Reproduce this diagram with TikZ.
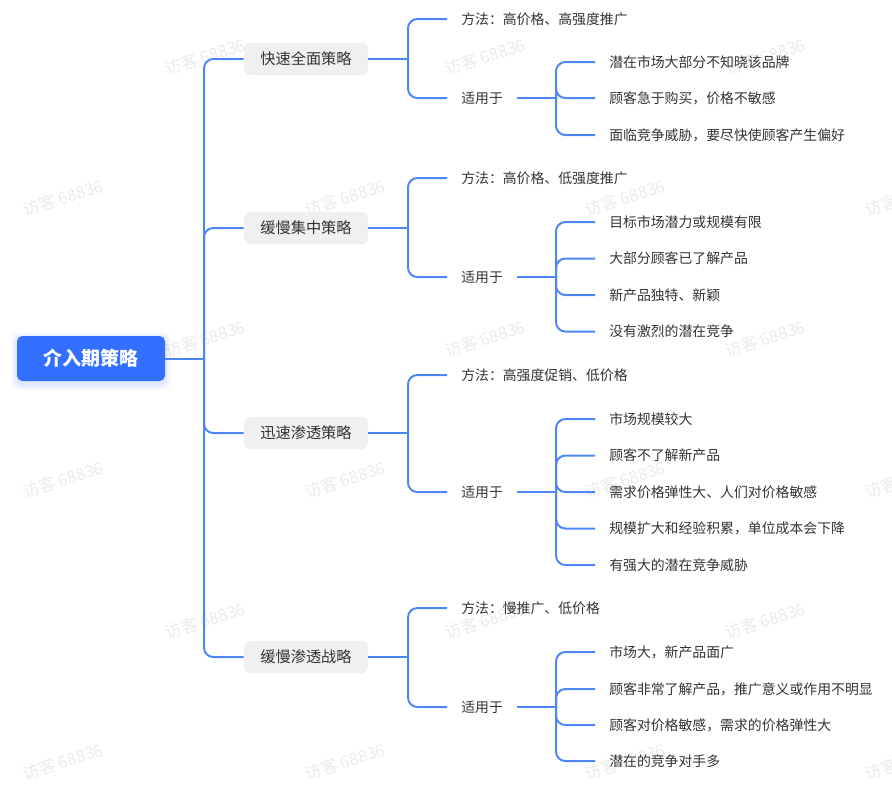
\documentclass[tikz,border=0pt]{standalone}
\usepackage{fontspec}
\setmainfont{Noto Sans CJK SC}
\definecolor{rootblue}{HTML}{3370FF}
\definecolor{lineblue}{HTML}{4E86F6}
\definecolor{boxgray}{HTML}{EFF0F2}
\definecolor{txt}{HTML}{333333}
\definecolor{wmgray}{HTML}{EBEBEB}
\tikzset{
  edge/.style={draw=lineblue, line width=1.5pt, rounded corners=7pt},
  rootbox/.style={fill=rootblue, rounded corners=4pt, text=white, inner sep=0pt,
    font=\fontsize{14.2}{16}\selectfont\bfseries, minimum width=111pt, minimum height=33.75pt},
  catbox/.style={fill=boxgray, rounded corners=4.5pt, text=txt, inner sep=0pt,
    font=\fontsize{11.4}{13}\selectfont, minimum width=93pt, minimum height=24pt},
  leaf/.style={anchor=west, text=txt, font=\fontsize{10.4}{12}\selectfont, inner xsep=10.5pt, inner ysep=1pt},
  wm/.style={text=wmgray, font=\fontsize{12.5}{14}\selectfont, rotate=18, inner sep=0pt}
}
\begin{document}
\begin{tikzpicture}[x=0.75pt,y=-0.75pt]
\useasboundingbox (0,0) rectangle (892,790);
% watermarks
\foreach \wx/\wy [count=\i] in {205/57,485/57,765/57,
  63/198,345/198,625/198,905/198,
  205/339,485/339,765/339,
  63/480,345/480,625/480,905/480,
  205/621,485/621,765/621,
  63/762,345/762,625/762,905/762}
  \node[wm] (wm\i) at (\wx,\wy) {访客 68836};

% root with soft shadow
\foreach \s/\o in {6/0.04,4/0.05,2/0.07}
  \fill[rootblue, opacity=\o, rounded corners=6pt] (17-\s,338-\s) rectangle (165+\s,384+\s);
\node[rootbox] (root) at (91,358.5) {介入期策略};
\coordinate (t) at (204,358.5);
\draw[edge] (root.east) -- (t);

% level 1
\node[catbox] (c1) at (306,59) {快速全面策略};
\node[catbox] (c2) at (306,228) {缓慢集中策略};
\node[catbox] (c3) at (306,433) {迅速渗透策略};
\node[catbox] (c4) at (306,657) {缓慢渗透战略};
\foreach \c in {c1,c2,c3,c4}
  \draw[edge] (t) |- (\c.west);

% group 1
\coordinate (j1) at (408,59);
\node[leaf] (m1) at (447,19) {方法：高价格、高强度推广};
\node[leaf] (s1) at (447,98) {适用于};
\draw[edge] (c1.east) -- (j1);
\draw[edge] (j1) |- (m1.west);
\draw[edge] (j1) |- (s1.west);
\coordinate (k1) at (556,98);
\draw[edge] (s1.east) -- (k1);
\node[leaf] (a1) at (595,62) {潜在市场大部分不知晓该品牌};
\node[leaf] (a2) at (595,98) {顾客急于购买，价格不敏感};
\node[leaf] (a3) at (595,135) {面临竞争威胁，要尽快使顾客产生偏好};
\foreach \n in {a1,a2,a3} \draw[edge] (k1) |- (\n.west);

% group 2
\coordinate (j2) at (408,228);
\node[leaf] (m2) at (447,178) {方法：高价格、低强度推广};
\node[leaf] (s2) at (447,277) {适用于};
\draw[edge] (c2.east) -- (j2);
\draw[edge] (j2) |- (m2.west);
\draw[edge] (j2) |- (s2.west);
\coordinate (k2) at (556,277);
\draw[edge] (s2.east) -- (k2);
\node[leaf] (b1) at (595,222) {目标市场潜力或规模有限};
\node[leaf] (b2) at (595,258.5) {大部分顾客已了解产品};
\node[leaf] (b3) at (595,295) {新产品独特、新颖};
\node[leaf] (b4) at (595,331.5) {没有激烈的潜在竞争};
\foreach \n in {b1,b2,b3,b4} \draw[edge] (k2) |- (\n.west);

% group 3
\coordinate (j3) at (408,433);
\node[leaf] (m3) at (447,375) {方法：高强度促销、低价格};
\node[leaf] (s3) at (447,492) {适用于};
\draw[edge] (c3.east) -- (j3);
\draw[edge] (j3) |- (m3.west);
\draw[edge] (j3) |- (s3.west);
\coordinate (k3) at (556,492);
\draw[edge] (s3.east) -- (k3);
\node[leaf] (d1) at (595,419) {市场规模较大};
\node[leaf] (d2) at (595,455.5) {顾客不了解新产品};
\node[leaf] (d3) at (595,492) {需求价格弹性大、人们对价格敏感};
\node[leaf] (d4) at (595,528.5) {规模扩大和经验积累，单位成本会下降};
\node[leaf] (d5) at (595,565) {有强大的潜在竞争威胁};
\foreach \n in {d1,d2,d3,d4,d5} \draw[edge] (k3) |- (\n.west);

% group 4
\coordinate (j4) at (408,657);
\node[leaf] (m4) at (447,608) {方法：慢推广、低价格};
\node[leaf] (s4) at (447,707) {适用于};
\draw[edge] (c4.east) -- (j4);
\draw[edge] (j4) |- (m4.west);
\draw[edge] (j4) |- (s4.west);
\coordinate (k4) at (556,707);
\draw[edge] (s4.east) -- (k4);
\node[leaf] (e1) at (595,652) {市场大，新产品面广};
\node[leaf] (e2) at (595,689) {顾客非常了解产品，推广意义或作用不明显};
\node[leaf] (e3) at (595,725) {顾客对价格敏感，需求的价格弹性大};
\node[leaf] (e4) at (595,761) {潜在的竞争对手多};
\foreach \n in {e1,e2,e3,e4} \draw[edge] (k4) |- (\n.west);
\end{tikzpicture}
\end{document}
